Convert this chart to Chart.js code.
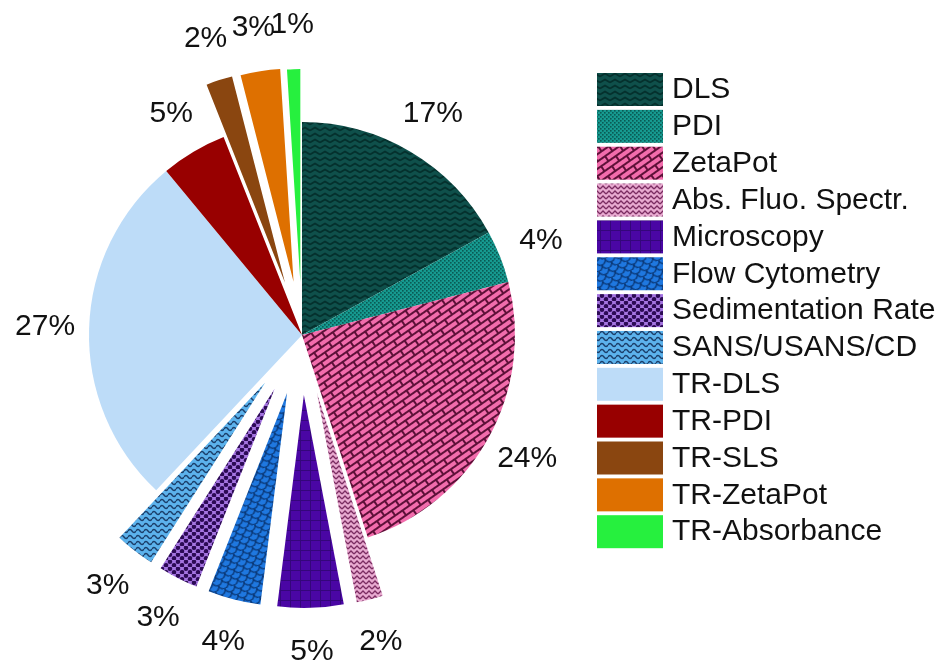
<!DOCTYPE html>
<html lang="en">
<head>
<meta charset="UTF-8">
<title>Characterisation techniques</title>
<script src="https://cdn.jsdelivr.net/npm/chart.js@4"></script>
<style>
  html, body { margin: 0; padding: 0; background: #fff; }
  canvas { display: block; }
</style>
</head>
<body>
<canvas id="techChart" width="936" height="661"></canvas>
<script>
// data (share of studies, %)
const techniques = ["DLS", "PDI", "ZetaPot", "Abs. Fluo. Spectr.", "Microscopy", "Flow Cytometry",
  "Sedimentation Rate", "SANS/USANS/CD", "TR-DLS", "TR-PDI", "TR-SLS", "TR-ZetaPot", "TR-Absorbance"];
const shares = [17, 4, 24, 2, 5, 4, 3, 3, 27, 5, 2, 3, 1];

// how far (px) the exploded slices are pulled out of the pie
const pullOut = {
  "Abs. Fluo. Spectr.": 60, "Microscopy": 60, "Flow Cytometry": 60,
  "Sedimentation Rate": 60, "SANS/USANS/CD": 60,
  "TR-SLS": 55, "TR-ZetaPot": 54, "TR-Absorbance": 53
};

const FONT = '"Liberation Sans", Arial, sans-serif';

// small tiled fills to mimic the hatch patterns of the original
function makePattern(w, h, base, paint, angle) {
  const c = document.createElement('canvas');
  c.width = w; c.height = h;
  const g = c.getContext('2d');
  g.fillStyle = base;
  g.fillRect(0, 0, w, h);
  paint(g, w, h);
  const p = g.createPattern(c, 'repeat');
  if (angle) p.setTransform(new DOMMatrix().rotate(angle));
  return p;
}

const fills = {
  "DLS": makePattern(10, 6, '#0f504b', g => {
    g.strokeStyle = '#05302d'; g.lineWidth = 1.8; g.lineJoin = 'round';
    g.beginPath(); g.moveTo(0, 4.5); g.lineTo(5, 1.5); g.lineTo(10, 4.5); g.stroke();
  }),
  "PDI": makePattern(4, 4, '#169a90', g => {
    g.fillStyle = '#0a5a54';
    g.fillRect(0, 0, 1.6, 1.6); g.fillRect(2, 2, 1.6, 1.6);
  }),
  "ZetaPot": makePattern(18, 12, '#f26cac', g => {
    g.strokeStyle = '#5e1038'; g.lineWidth = 2;
    g.beginPath();
    g.moveTo(0, 1); g.lineTo(18, 1);
    g.moveTo(0, 7); g.lineTo(18, 7);
    g.moveTo(1, 1); g.lineTo(1, 7);
    g.moveTo(10, 7); g.lineTo(10, 12);
    g.moveTo(10, 0); g.lineTo(10, 1);
    g.stroke();
  }, -35),
  "Abs. Fluo. Spectr.": makePattern(6, 5, '#e8aad0', g => {
    g.strokeStyle = '#7b2d62'; g.lineWidth = 1.3;
    g.beginPath(); g.moveTo(0, 4); g.lineTo(3, 1); g.lineTo(6, 4); g.stroke();
  }),
  "Microscopy": makePattern(10, 10, '#4a06a4', g => {
    g.strokeStyle = '#34067a'; g.lineWidth = 1;
    g.beginPath(); g.moveTo(0, 0.5); g.lineTo(10, 0.5); g.moveTo(0.5, 0); g.lineTo(0.5, 10); g.stroke();
  }),
  "Flow Cytometry": makePattern(10, 10, '#1f78e0', g => {
    g.strokeStyle = '#0b3a7a'; g.lineWidth = 1.5;
    [[5, 0], [0, 5], [10, 5], [5, 10]].forEach(([x, y]) => {
      g.beginPath(); g.arc(x, y, 5, 0, Math.PI); g.stroke();
    });
  }, -20),
  "Sedimentation Rate": makePattern(8, 7, '#a474e0', g => {
    g.fillStyle = '#2c0a55';
    [[2, 1.75], [6, 5.25], [-2, 5.25], [10, 1.75]].forEach(([x, y]) => {
      g.beginPath(); g.arc(x, y, 2.2, 0, Math.PI * 2); g.fill();
    });
  }),
  "SANS/USANS/CD": makePattern(8, 6, '#5cb2ec', g => {
    g.strokeStyle = '#1c3f6a'; g.lineWidth = 1.4;
    g.beginPath(); g.moveTo(0, 3);
    g.quadraticCurveTo(2, 0, 4, 3); g.quadraticCurveTo(6, 6, 8, 3); g.stroke();
  }),
  "TR-DLS": '#bddcf8',
  "TR-PDI": '#980000',
  "TR-SLS": '#8a4610',
  "TR-ZetaPot": '#de7000',
  "TR-Absorbance": '#26f03e'
};

// move exploded slices outward along their middle angle (pure translation)
const pullSlices = {
  id: 'pullSlices',
  afterDatasetUpdate(chart, args) {
    args.meta.data.forEach((arc, i) => {
      const d = pullOut[techniques[i]] || 0;
      if (!d) return;
      const mid = (arc.startAngle + arc.endAngle) / 2;
      arc.x += Math.cos(mid) * d;
      arc.y += Math.sin(mid) * d;
    });
  }
};

// percentage labels outside each slice
const sliceLabels = {
  id: 'sliceLabels',
  afterDatasetsDraw(chart) {
    const ctx = chart.ctx;
    ctx.save();
    ctx.font = '30px ' + FONT;
    ctx.fillStyle = '#111';
    ctx.textAlign = 'center';
    ctx.textBaseline = 'middle';
    chart.getDatasetMeta(0).data.forEach((arc, i) => {
      const mid = (arc.startAngle + arc.endAngle) / 2;
      const r = arc.outerRadius + 44;
      ctx.fillText(shares[i] + '%', arc.x + Math.cos(mid) * r, arc.y + Math.sin(mid) * r);
    });
    ctx.restore();
  }
};

// legend with pattern swatches on the right
const swatchLegend = {
  id: 'swatchLegend',
  afterDraw(chart) {
    const ctx = chart.ctx;
    const ds = chart.data.datasets[0];
    ctx.save();
    ctx.font = '30px ' + FONT;
    ctx.textBaseline = 'middle';
    chart.data.labels.forEach((label, i) => {
      const top = 73 + i * 36.85;
      ctx.fillStyle = ds.backgroundColor[i];
      ctx.fillRect(597, top, 66, 33);
      ctx.fillStyle = '#111';
      ctx.fillText(label, 672, top + 17);
    });
    ctx.restore();
  }
};

new Chart(document.getElementById('techChart'), {
  type: 'pie',
  data: {
    labels: techniques,
    datasets: [{
      data: shares,
      backgroundColor: techniques.map(t => fills[t]),
      borderWidth: 0
    }]
  },
  options: {
    responsive: false,
    animation: false,
    events: [],
    radius: 213,
    layout: { padding: { left: 0, right: 332, top: 9, bottom: 0 } },
    plugins: {
      legend: { display: false },
      tooltip: { enabled: false }
    }
  },
  plugins: [pullSlices, sliceLabels, swatchLegend]
});
</script>
</body>
</html>
